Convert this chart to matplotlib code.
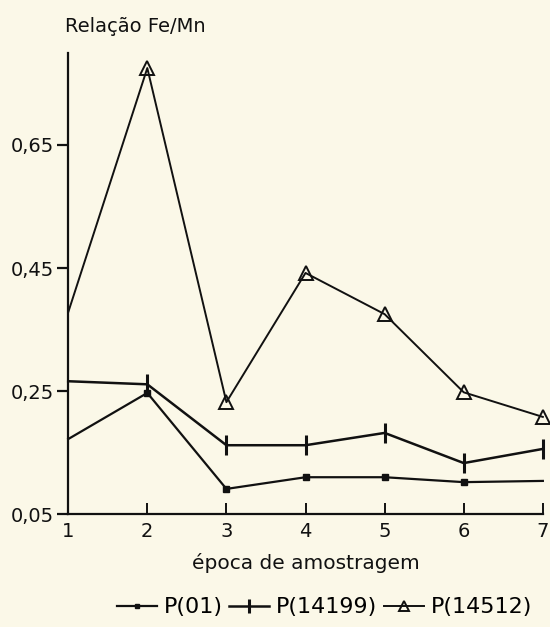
import matplotlib
matplotlib.use("Agg")
import matplotlib.pyplot as plt
from matplotlib.ticker import FuncFormatter

# ── Data ─────────────────────────────────────────────────────────────────────
epocas = [1, 2, 3, 4, 5, 6, 7]
p01    = [0.172, 0.247, 0.091, 0.110, 0.110, 0.102, 0.104]
p14199 = [0.266, 0.261, 0.162, 0.162, 0.182, 0.133, 0.156]
p14512 = [0.378, 0.775, 0.232, 0.442, 0.375, 0.248, 0.208]
yticks = [0.05, 0.25, 0.45, 0.65]

BG = "#fbf8e8"
INK = "#111111"

fig = plt.figure(figsize=(5.5, 6.27), dpi=100, facecolor=BG)
ax = fig.add_axes([0.124, 0.180, 0.863, 0.736], facecolor=BG)

ax.plot(epocas, p01, color=INK, lw=1.6, marker="s", ms=4,
        markevery=[1, 2, 3, 4, 5], label="P(01)", clip_on=False)
ax.plot(epocas, p14199, color=INK, lw=1.8, marker="|", ms=14, mew=2.2,
        markevery=[1, 2, 3, 4, 5, 6], label="P(14199)", clip_on=False)
ax.plot(epocas, p14512, color=INK, lw=1.4, marker="^", ms=10, mew=1.4,
        mfc="none", markevery=[1, 2, 3, 4, 5, 6], label="P(14512)",
        clip_on=False)

ax.set_xlim(1, 7)
ax.set_ylim(0.05, 0.80)
ax.set_xticks(epocas)
ax.set_yticks(yticks)
ax.yaxis.set_major_formatter(FuncFormatter(lambda v, _: f"{v:.2f}".replace(".", ",")))

for s in ["top", "right"]:
    ax.spines[s].set_visible(False)
for s in ["left", "bottom"]:
    ax.spines[s].set_linewidth(1.6)
    ax.spines[s].set_color(INK)

ax.tick_params(axis="y", direction="out", length=8, width=1.6, labelsize=14,
               colors=INK, pad=2)
ax.tick_params(axis="x", direction="in", length=8, width=1.4, labelsize=14,
               colors=INK, pad=6)

fig.text(0.118, 0.958, "Relação Fe/Mn", fontsize=14, color=INK,
         ha="left", va="center")
ax.set_xlabel("época de amostragem", fontsize=14.5, color=INK, labelpad=8)

ax.legend(loc="center", bbox_to_anchor=(0.54, -0.202), ncol=3, frameon=False,
          fontsize=16, handlelength=1.8, handletextpad=0.3, columnspacing=0.3,
          markerscale=0.7)

fig.savefig("out.png", dpi=100, facecolor=BG)
